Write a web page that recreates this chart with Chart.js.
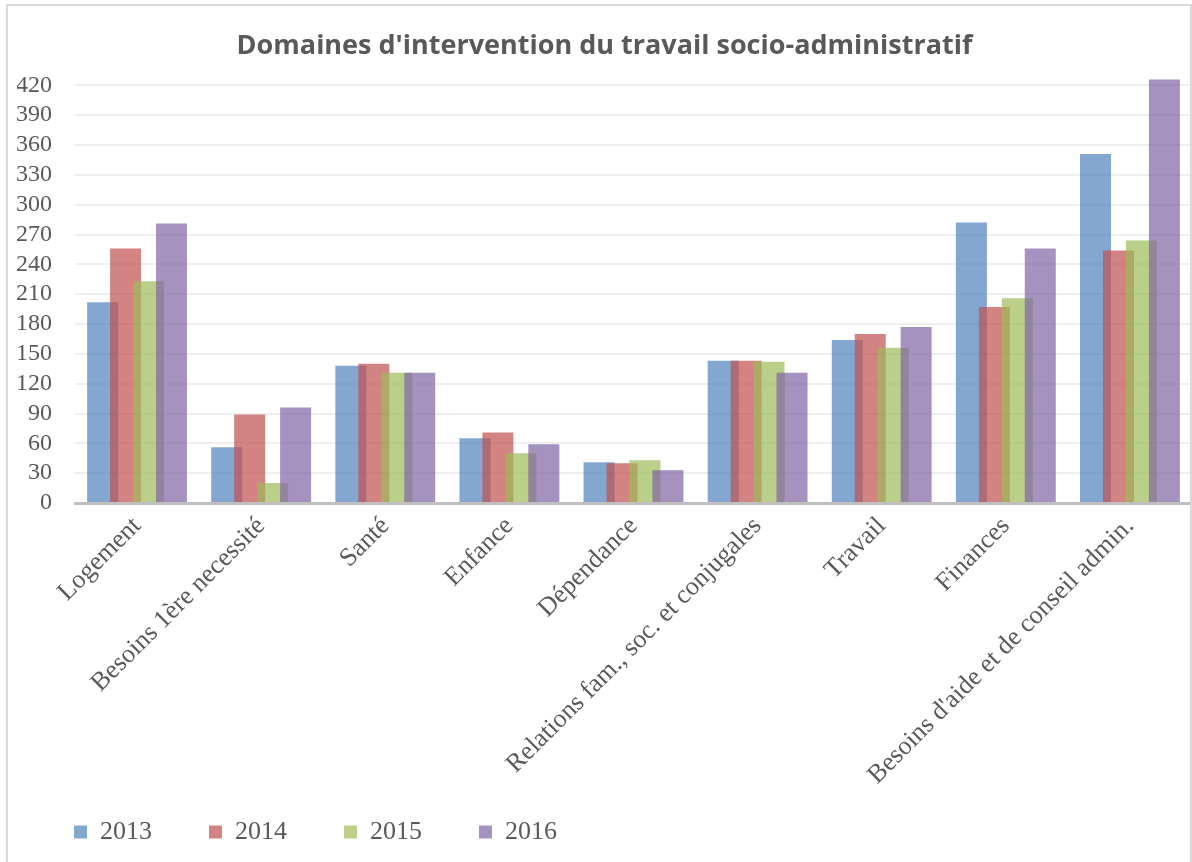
<!DOCTYPE html>
<html lang="fr">
<head>
<meta charset="utf-8">
<title>Domaines d'intervention du travail socio-administratif</title>
<script src="https://cdn.jsdelivr.net/npm/chart.js@4/dist/chart.umd.min.js"></script>
<style>
  html, body { margin: 0; padding: 0; background: #ffffff; }
  canvas { display: block; }
</style>
</head>
<body>
<canvas id="graphique" width="1192" height="862"></canvas>
<script>
// Données
const categories = [
    'Logement',
    'Besoins 1ère necessité',
    'Santé',
    'Enfance',
    'Dépendance',
    'Relations fam., soc. et conjugales',
    'Travail',
    'Finances',
    "Besoins d'aide et de conseil admin."
];
const annees = ['2013', '2014', '2015', '2016'];
const valeurs2013 = [202, 56, 138, 65, 41, 143, 164, 282, 351];
const valeurs2014 = [256, 89, 140, 71, 40, 143, 170, 197, 254];
const valeurs2015 = [223, 20, 131, 50, 43, 142, 156, 206, 264];
const valeurs2016 = [281, 96, 131, 59, 33, 131, 177, 256, 426];
const graduations = [0, 30, 60, 90, 120, 150, 180, 210, 240, 270, 300, 330, 360, 390, 420];
const couleurs = [
    'rgba(79, 129, 189, 0.7)',
    'rgba(192, 80, 77, 0.7)',
    'rgba(155, 187, 89, 0.7)',
    'rgba(128, 100, 162, 0.7)'
];

const series = [valeurs2013, valeurs2014, valeurs2015, valeurs2016];
const texteGris = '#595959';

// Dessine les séries dans l'ordre (2016 au-dessus de 2015, etc.)
const ordreDessin = {
    id: 'ordreDessin',
    beforeDatasetsDraw(chart) {
        chart.getSortedVisibleDatasetMetas().forEach(meta => meta.controller.draw());
        return false;
    }
};

// Cadre gris autour du graphique
const cadre = {
    id: 'cadre',
    afterDraw(chart) {
        const c = chart.ctx;
        c.save();
        c.strokeStyle = '#d9d9d9';
        c.lineWidth = 2;
        c.beginPath();
        c.moveTo(7, 870);
        c.lineTo(7, 5);
        c.lineTo(1191, 5);
        c.lineTo(1191, 870);
        c.stroke();
        c.restore();
    }
};

const ctx = document.getElementById('graphique').getContext('2d');
const monGraphique = new Chart(ctx, {
    type: 'bar',
    data: {
        labels: categories,
        datasets: annees.map((annee, i) => ({
            label: annee,
            data: series[i],
            backgroundColor: couleurs[i],
            borderWidth: 0,
            categoryPercentage: 0.74,
            barPercentage: 1.35
        }))
    },
    options: {
        responsive: false,
        animation: false,
        devicePixelRatio: 1,
        layout: {
            padding: { left: 17, right: 0, top: 0, bottom: 7 }
        },
        plugins: {
            title: {
                display: true,
                text: "Domaines d'intervention du travail socio-administratif",
                color: texteGris,
                font: { family: 'Open Sans', size: 27, weight: 'bold' },
                padding: { top: 30, bottom: 13 }
            },
            legend: {
                position: 'bottom',
                align: 'start',
                labels: {
                    color: texteGris,
                    font: { family: 'Liberation Serif', size: 26 },
                    boxWidth: 13,
                    boxHeight: 13,
                    padding: 57
                }
            },
            tooltip: { enabled: false }
        },
        scales: {
            x: {
                grid: { display: false, drawTicks: false },
                border: { color: '#bfbfbf', width: 3 },
                ticks: {
                    color: texteGris,
                    font: { family: 'Liberation Serif', size: 26 },
                    minRotation: 45,
                    maxRotation: 45,
                    autoSkip: false,
                    padding: 8
                },
                afterFit(scale) {
                    scale.height = 259;
                    // les étiquettes inclinées débordent sur la zone de la légende
                    scale._computeLabelArea = () => undefined;
                }
            },
            y: {
                min: 0,
                max: 430,
                grid: { color: '#efefef', lineWidth: 2, drawTicks: false },
                border: { display: false },
                ticks: {
                    color: texteGris,
                    font: { family: 'Liberation Serif', size: 24 },
                    padding: 23,
                    autoSkip: false
                },
                afterBuildTicks(scale) {
                    scale.ticks = graduations.map(v => ({ value: v }));
                },
                afterFit(scale) {
                    scale.width = 58;
                }
            }
        }
    },
    plugins: [ordreDessin, cadre]
});
</script>
</body>
</html>
